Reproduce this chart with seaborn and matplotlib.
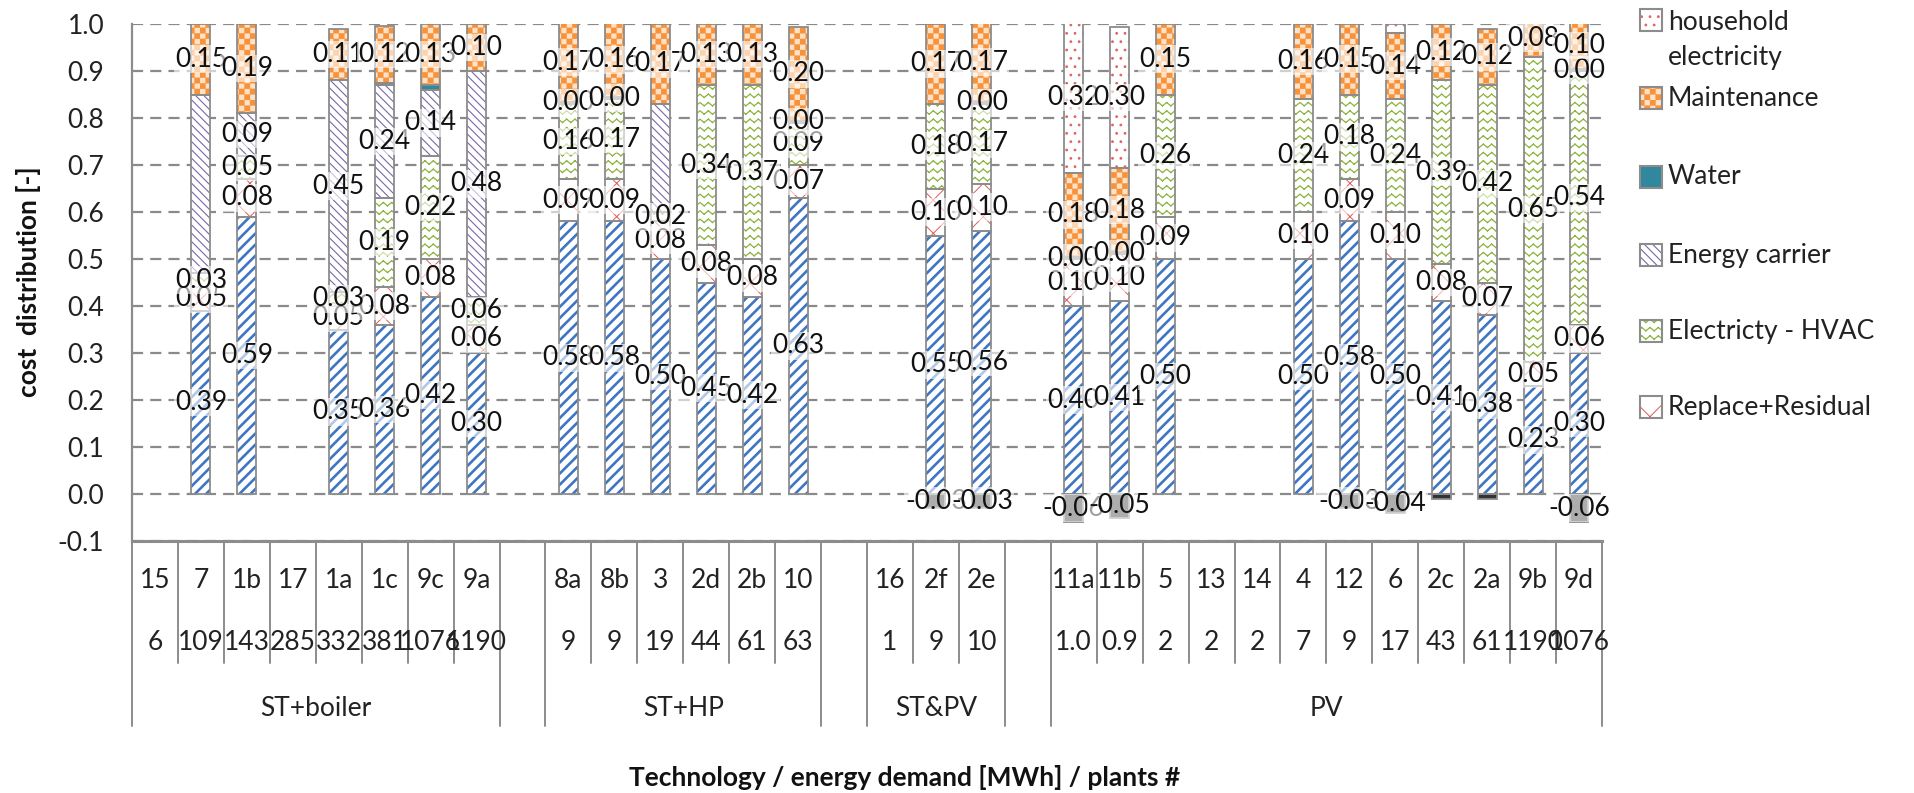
import numpy as np
import matplotlib
matplotlib.use("Agg")
import matplotlib.pyplot as plt
import seaborn as sns
from matplotlib import hatch as mhatch
from matplotlib import transforms
from matplotlib.path import Path
from matplotlib.patches import Rectangle

# ---------------------------------------------------------------- data
technology = (["ST+boiler"] * 8 + [""] + ["ST+HP"] * 6 + [""] +
              ["ST&PV"] * 3 + [""] + ["PV"] * 12)
plant = ["15", "7", "1b", "17", "1a", "1c", "9c", "9a", "",
         "8a", "8b", "3", "2d", "2b", "10", "",
         "16", "2f", "2e", "",
         "11a", "11b", "5", "13", "14", "4", "12", "6", "2c", "2a", "9b", "9d"]
demand = ["6", "109", "143", "285", "332", "381", "1076", "1190", "",
          "9", "9", "19", "44", "61", "63", "",
          "1", "9", "10", "",
          "1.0", "0.9", "2", "2", "2", "7", "9", "17", "43", "61", "1190", "1076"]

investment = [0, .39, .59, 0, .35, .36, .42, .30, 0,
              .58, .58, .50, .45, .42, .63, 0,
              0, .55, .56, 0,
              .40, .41, .50, 0, 0, .50, .58, .50, .41, .38, .23, .30]
replace_residual = [0, .05, .08, 0, .05, .08, .08, .06, 0,
                    .09, .09, .08, .08, .08, .07, 0,
                    0, .10, .10, 0,
                    .10, .10, .09, 0, 0, .10, .09, .10, .08, .07, .05, .06]
electricity_hvac = [0, .03, .05, 0, .03, .19, .22, .06, 0,
                    .16, .17, .02, .34, .37, .09, 0,
                    0, .18, .17, 0,
                    0, 0, .26, 0, 0, .24, .18, .24, .39, .42, .65, .54]
energy_carrier = [0, .38, .09, 0, .45, .24, .14, .48, 0,
                  0, 0, .23, 0, 0, 0, 0,
                  0, 0, 0, 0,
                  0, 0, 0, 0, 0, 0, 0, 0, 0, 0, 0, 0]
water = [0, 0, 0, 0, 0, .005, .01, 0, 0,
         .004, .004, 0, 0, 0, .004, 0,
         0, 0, .004, 0,
         .004, .004, 0, 0, 0, 0, 0, 0, 0, 0, 0, .004]
maintenance = [0, .15, .19, 0, .11, .12, .13, .10, 0,
               .17, .16, .17, .13, .13, .20, 0,
               0, .17, .17, 0,
               .18, .18, .15, 0, 0, .16, .15, .14, .12, .12, .08, .10]
household_electricity = [0] * 20 + [.32, .30, 0, 0, 0, 0, 0, .02, 0, 0, 0, 0]
residual_value = [0] * 17 + [-.03, -.03, 0,
                             -.06, -.05, 0, 0, 0, 0, -.03, -.04, -.01, -.01, 0, -.06]

series_names = ["Investment", "Replace+Residual", "Electricty - HVAC",
                "Energy carrier", "Water", "Maintenance", "household\nelectricity"]
series_values = [investment, replace_residual, electricity_hvac, energy_carrier,
                 water, maintenance, household_electricity]
# value labels that are left off in the chart (series, plant)
unlabelled = [("Energy carrier", "7"), ("Energy carrier", "3"),
              ("Water", "1c"), ("Water", "9c"),
              ("household\nelectricity", "6"),
              ("Residual value", "2c"), ("Residual value", "2a")]
legend_order = ["household\nelectricity", "Maintenance", "Water", "Energy carrier",
                "Electricty - HVAC", "Replace+Residual"]


# ------------------------------------------------------- fill patterns
class ZigZagHatch(mhatch.HatchPatternBase):
    """Rows of short zig-zag strokes, drawn for '|' in a hatch string."""

    def __init__(self, hatch, density):
        self.num_rows = int(hatch.count("|") * density)
        self.num_vertices = self.num_rows * self.num_rows * 4

    def set_vertices_and_codes(self, vertices, codes):
        n = self.num_rows
        step = 1.0 / n
        amp = 0.2 * step
        k = 0
        for r in range(n):
            y = (r + 0.5) * step
            for i in range(n):
                x0 = i * step
                vertices[k:k + 4] = [(x0, y + amp), (x0 + step / 2, y - amp),
                                     (x0 + step / 2, y - amp), (x0 + step, y + amp)]
                codes[k:k + 4] = [Path.MOVETO, Path.LINETO, Path.MOVETO, Path.LINETO]
                k += 4


class CheckerHatch(mhatch.HatchPatternBase):
    """Filled checkerboard squares, drawn for '-' in a hatch string."""

    def __init__(self, hatch, density):
        n = int(hatch.count("-") * density)
        self.num_cells = n + (n % 2)
        self.num_vertices = (self.num_cells ** 2 // 2) * 5

    def set_vertices_and_codes(self, vertices, codes):
        n = self.num_cells
        s = 1.0 / n
        k = 0
        for i in range(n):
            for j in range(n):
                if (i + j) % 2:
                    continue
                x, y = i * s, j * s
                vertices[k:k + 5] = [(x, y), (x + s, y), (x + s, y + s), (x, y + s), (x, y)]
                codes[k:k + 5] = [Path.MOVETO, Path.LINETO, Path.LINETO,
                                  Path.LINETO, Path.CLOSEPOLY]
                k += 5


mhatch._hatch_types = [ZigZagHatch if t is mhatch.VerticalHatch else
                       CheckerHatch if t is mhatch.HorizontalHatch else t
                       for t in mhatch._hatch_types]

styles = {
    "Investment": dict(face="white", hatch="///", hc="#3F76C3", hlw=1.9),
    "Replace+Residual": dict(face="white", hatch="x", hc="#E05A55", hlw=0.7),
    "Electricty - HVAC": dict(face="white", hatch="||", hc="#8DB43E", hlw=0.9),
    "Energy carrier": dict(face="white", hatch="\\\\\\\\", hc="#7A67A8", hlw=0.8),
    "Water": dict(face="#31879E", hatch=None, hc="#31879E", hlw=0),
    "Maintenance": dict(face="#FDE2C8", hatch="---", hc="#F7923A", hlw=0.2),
    "household\nelectricity": dict(face="white", hatch="..", hc="#E06464", hlw=0.8),
    "Residual value": dict(face="#333333", hatch=None, hc="#333333", hlw=0),
}

# ---------------------------------------------------------------- figure
W, H = 1914, 793
sns.set_style("white")
plt.rcParams["font.family"] = ["Lato", "DejaVu Sans"]
plt.rcParams["hatch.linewidth"] = 1.0
fig = plt.figure(figsize=(W / 100, H / 100), dpi=100)
ax = fig.add_axes([132 / W, 1 - 541 / H, (1602 - 132) / W, (541 - 24) / H])

EDGE = "#8C8C8C"
FS = 19
slots = np.arange(len(plant))
BAR_WIDTH = 0.41


def style_patch(p, st):
    p.set_facecolor(st["face"])
    p.set_edgecolor(st["hc"])
    p.set_linewidth(0)
    if st["hatch"]:
        p.set_hatch(st["hatch"])
        if hasattr(p, "set_hatch_linewidth"):
            p.set_hatch_linewidth(st["hlw"])


def draw_layer(name, values, bottom):
    st = styles[name]
    sns.barplot(x=slots, y=values, bottom=bottom, native_scale=True, orient="x",
                width=BAR_WIDTH, errorbar=None, saturation=1, color=st["face"],
                linewidth=0, ax=ax, zorder=2)
    bars = ax.containers[-1]
    for p, v in zip(bars.patches, values):
        style_patch(p, st)
        if v != 0:
            ax.add_patch(Rectangle(p.get_xy(), p.get_width(), p.get_height(),
                                   fill=False, edgecolor=EDGE, linewidth=1.3, zorder=3))
    return bars


label_jobs = []
bottom = np.zeros(len(slots))
for name, values in zip(series_names, series_values):
    vals = np.asarray(values, dtype=float)
    draw_layer(name, vals, bottom.copy())
    label_jobs.append((name, vals, bottom.copy()))
    bottom += vals
neg = np.asarray(residual_value, dtype=float)
draw_layer("Residual value", neg, np.zeros(len(slots)))
label_jobs.append(("Residual value", neg, np.zeros(len(slots))))

# value labels, centred in each segment
z = 6
for name, vals, base in label_jobs:
    for i, v in enumerate(vals):
        if v == 0 or (name, plant[i]) in unlabelled:
            continue
        ax.text(slots[i], base[i] + v / 2, f"{v:.2f}", ha="center", va="center",
                fontsize=FS, color="#111111", zorder=z,
                bbox=dict(boxstyle="square,pad=0.05", fc="white", ec="none", alpha=0.6))
        z += 0.001

# axes styling
ax.set_xlim(-0.5, len(slots) - 0.5)
ax.set_ylim(-0.1, 1.0)
yt = np.round(np.arange(-0.1, 1.001, 0.1), 1)
ax.set_yticks(yt)
ax.set_yticklabels([f"{t:.1f}" for t in yt], fontsize=FS, color="#222222")
ax.set_xticks([])
ax.set_xlabel("")
ax.set_ylabel("")
ax.tick_params(axis="y", direction="out", length=8, width=1.5, color=EDGE, pad=12)
ax.yaxis.grid(True, color="#8A8A8A", linewidth=1.6, linestyle=(0, (5.0, 3.2)))
ax.set_axisbelow(True)
for s in ("top", "right"):
    ax.spines[s].set_visible(False)
ax.spines["left"].set_color(EDGE)
ax.spines["left"].set_linewidth(1.6)
ax.spines["bottom"].set_color(EDGE)
ax.spines["bottom"].set_linewidth(2.2)

# multi-level category axis
trans = transforms.blended_transform_factory(ax.transData, fig.transFigure)
fy = lambda py: 1 - py / H
y_axis, y_short, y_tall = fy(541), fy(663), fy(726)
n = len(slots)
for b in range(n + 1):
    tall = b == 0 or b == n or technology[b - 1] != technology[b]
    ax.plot([b - 0.5, b - 0.5], [y_axis, y_tall if tall else y_short], transform=trans,
            color=EDGE, linewidth=1.4, clip_on=False, zorder=1)
for i in slots:
    ax.text(i, fy(580), plant[i], transform=trans, ha="center", va="center",
            fontsize=FS, color="#222222")
    ax.text(i, fy(643), demand[i], transform=trans, ha="center", va="center",
            fontsize=FS, color="#222222")
start = 0
for i in range(1, n + 1):
    if i == n or technology[i] != technology[start]:
        if technology[start]:
            ax.text((start + i - 1) / 2, fy(708), technology[start], transform=trans,
                    ha="center", va="center", fontsize=FS, color="#222222")
        start = i

fig.text(905 / W, fy(777), "Technology / energy demand [MWh] / plants #",
         ha="center", va="center", fontsize=FS, fontweight="bold", color="#111111")
fig.text(29 / W, fy(282), "cost  distribution [-]", rotation=90, ha="center",
         va="center", fontsize=FS, fontweight="bold", color="#111111")

# legend
legend_y = [20, 98, 177, 255, 331, 407]
for name, py in zip(legend_order, legend_y):
    st = styles[name]
    sq = Rectangle((1640 / W, fy(py + 11)), 22 / W, 22 / H, transform=fig.transFigure)
    style_patch(sq, st)
    fig.add_artist(sq)
    fig.add_artist(Rectangle((1640 / W, fy(py + 11)), 22 / W, 22 / H,
                             transform=fig.transFigure, fill=False,
                             edgecolor=EDGE, linewidth=1.5))
    ty = py + 20 if "\n" in name else py
    fig.text(1668 / W, fy(ty), name, ha="left", va="center", fontsize=FS,
             color="#222222", linespacing=1.45)

fig.savefig("out.png", dpi=100, facecolor="white")
